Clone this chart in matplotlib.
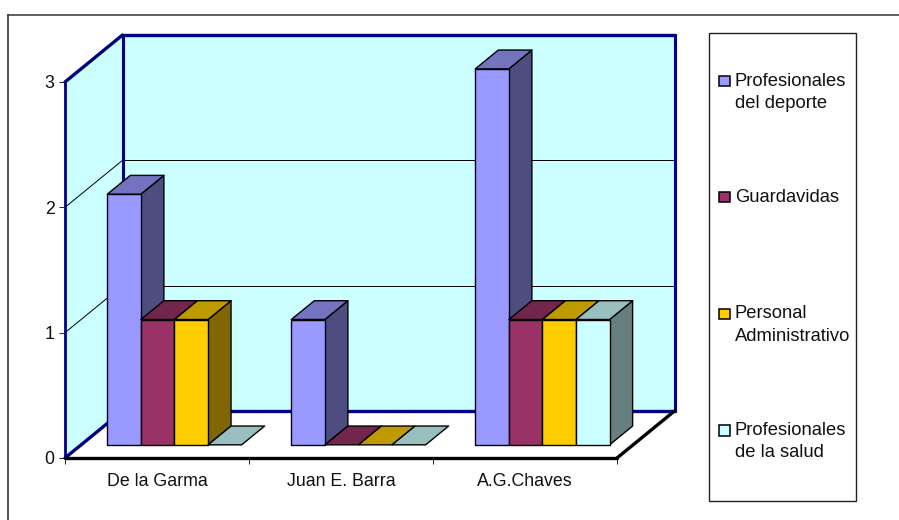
# -*- coding: utf-8 -*-

import matplotlib
matplotlib.use("Agg")
import matplotlib.pyplot as plt
from matplotlib.patches import Polygon, Rectangle
from matplotlib.colors import to_rgb

plt.rcParams["font.family"] = ["Liberation Sans", "DejaVu Sans"]

# Data
categories = ["De la Garma", "Juan E. Barra", "A.G.Chaves"]
series_names = ["Profesionales\ndel deporte", "Guardavidas",
                "Personal\nAdministrativo", "Profesionales\nde la salud"]
deporte = [2, 1, 3]
guardavidas = [1, 0, 1]
administrativo = [1, 0, 1]
salud = [0, 0, 1]
y_ticks = [0, 1, 2, 3]

series = [deporte, guardavidas, administrativo, salud]
colors = ["#9999FF", "#993366", "#FFCC00", "#CCFFFF"]

W, H = 899, 520
NAVY = "#000080"
WALL = "#CCFFFF"

# Oblique projection: depth 0..1 shifts a point towards the back wall
X0, X1, Y0, Y3 = 65, 617, 458, 82
DX = 57.5 / ((X1 - X0) / 3)
DY = 47 / ((Y0 - Y3) / 3)
BAR_D0 = 0.28
BAR_D1 = 0.68
GROUP_OFFSET = 0.1424
BAR_W = 0.1825


def proj(x, v, d=0.0):
    return (x + d * DX, v + d * DY)


def shade(color, k):
    return tuple(c * k for c in to_rgb(color))


fig = plt.figure(figsize=(W / 100, H / 100), dpi=100)

# Frame and legend, in pixel coordinates
bg = fig.add_axes([0, 0, 1, 1])
bg.set_xlim(0, W)
bg.set_ylim(H, 0)
bg.axis("off")
bg.plot([7.5, 7.5], [520, 14.5], color="#222222", lw=1.1)
bg.plot([7.5, 899], [14.5, 14.5], color="#333333", lw=1.1)
bg.add_patch(Rectangle((708.5, 33), 147, 468, fc="white", ec="#222222", lw=1.0))

legend_y = [80.5, 196.5, 313.5, 430]
for name, color, ly in zip(series_names, colors, legend_y):
    bg.add_patch(Rectangle((719, ly - 5), 10.5, 10.5, fc=color, ec="black", lw=1.1))
    bg.text(735, ly - 8, name, fontsize=13.2, va="top", ha="left",
            linespacing=1.42, color="#111111")

# Main axes: the front plane of the 3D box
ax = fig.add_axes([X0 / W, (H - Y0) / H, (X1 - X0) / W, (Y0 - Y3) / H])
ax.set_xlim(0, 3)
ax.set_ylim(0, 3)
ax.patch.set_visible(False)
for s in ax.spines.values():
    s.set_visible(False)


def face(points, fc, ec="none", lw=0.0, z=1):
    ax.add_patch(Polygon(points, closed=True, fc=fc, ec=ec, lw=lw,
                         clip_on=False, zorder=z, joinstyle="round"))


def edge(p, q, color, lw, z=2):
    ax.plot([p[0], q[0]], [p[1], q[1]], color=color, lw=lw, clip_on=False,
            zorder=z, solid_capstyle="round")


n = len(categories)
top = y_ticks[-1]

# Walls and floor
face([proj(0, 0, 1), proj(n, 0, 1), proj(n, top, 1), proj(0, top, 1)], WALL)
face([proj(0, 0, 0), proj(0, 0, 1), proj(0, top, 1), proj(0, top, 0)], WALL)
face([proj(0, 0, 0), proj(n, 0, 0), proj(n, 0, 1), proj(0, 0, 1)], "white")

# Grid lines
for v in y_ticks[1:-1]:
    edge(proj(0, v, 0), proj(0, v, 1), "black", 0.7)
    edge(proj(0, v, 1), proj(n, v, 1), "black", 0.7)

# Wall borders
edge(proj(0, 0, 0), proj(0, top, 0), NAVY, 2.0)
edge(proj(0, top, 0), proj(0, top, 1), NAVY, 2.4)
edge(proj(0, top, 1), proj(n, top, 1), NAVY, 2.4)
edge(proj(0, 0, 1), proj(0, top, 1), NAVY, 2.2)
edge(proj(n, 0, 1), proj(n, top, 1), NAVY, 2.2)
edge(proj(0, 0, 0), proj(0, 0, 1), NAVY, 2.4)
edge(proj(0, 0, 1), proj(n, 0, 1), NAVY, 2.4)
edge(proj(0, 0, 0), proj(n, 0, 0), "black", 2.4)
edge(proj(n, 0, 0), proj(n, 0, 1), "black", 2.4)

# Bars
z = 3
for c in range(n):
    for s, (vals, color) in enumerate(zip(series, colors)):
        v = vals[c]
        x0 = c + GROUP_OFFSET + s * BAR_W
        x1 = x0 + BAR_W
        d0, d1 = BAR_D0, BAR_D1
        if v > 0:
            face([proj(x1, 0, d0), proj(x1, 0, d1), proj(x1, v, d1), proj(x1, v, d0)],
                 shade(color, 0.5), "black", 1.0, z)
            face([proj(x0, 0, d0), proj(x1, 0, d0), proj(x1, v, d0), proj(x0, v, d0)],
                 color, "black", 1.0, z)
        face([proj(x0, v, d0), proj(x1, v, d0), proj(x1, v, d1), proj(x0, v, d1)],
             shade(color, 0.75), "black", 1.0, z)
        z += 1

# Ticks
ax.set_yticks(y_ticks)
ax.set_xticks(range(n + 1))
ax.set_xticklabels([""] * (n + 1))
ax.tick_params(axis="both", length=4, width=0.7, color="#222222",
               labelsize=12.8, labelcolor="#111111")
ax.tick_params(axis="y", pad=3.5)
for i, name in enumerate(categories):
    ax.annotate(name, (i + 0.5, 0), xytext=(0, -17), textcoords="offset points",
                ha="center", va="center", fontsize=12.8, color="#111111", annotation_clip=False)

fig.savefig("out.png", dpi=100)
